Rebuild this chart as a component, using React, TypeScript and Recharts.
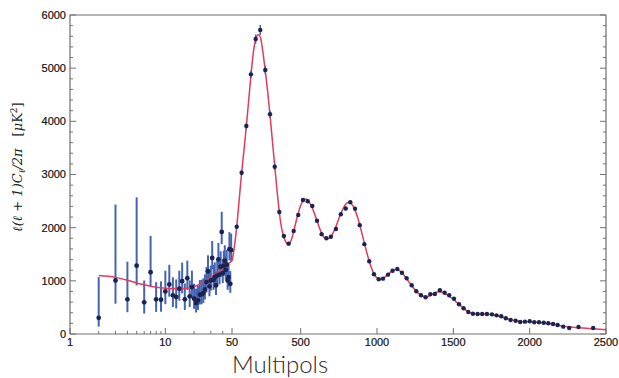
import React from "react";
import { ComposedChart, Line, Scatter, XAxis, YAxis, ErrorBar, Label } from "recharts";

// x axis is log from 1 to 50, then linear from 50 to 2500
const LOG_W = 162;
const LIN_W = 374;
const toT = (ell: number) =>
  ell <= 50 ? (Math.log10(ell) / Math.log10(50)) * LOG_W : LOG_W + ((ell - 50) / 2450) * LIN_W;

// low multipoles, with asymmetric error bars
const lowEll = [2, 3, 4, 5, 6, 7, 8, 9, 10, 11, 12, 13, 14, 15, 16, 17, 18, 19, 20, 21, 22, 23, 24, 25,
  26, 27, 28, 29, 30, 31, 32, 33, 34, 35, 36, 37, 38, 39, 40, 41, 42, 43, 44, 45, 46, 47, 48, 49];
const lowVal = [304, 1006, 652, 1286, 596, 1161, 652, 646, 801, 932, 727, 696, 851, 994, 652, 1050, 708, 882,
  665, 584, 634, 739, 745, 770, 839, 975, 1180, 894, 1006, 1429, 1019, 1068, 913, 1099, 1404, 1118, 1267,
  1919, 1143, 1286, 1379, 1205, 1304, 1006, 1068, 1596, 944, 1578];
const lowErrDown = [165, 436, 242, 373, 211, 279, 236, 226, 240, 230, 220, 215, 225, 230, 200, 220, 200, 210,
  190, 180, 180, 185, 185, 185, 190, 195, 200, 185, 190, 210, 190, 190, 180, 190, 205, 185, 195, 230, 185,
  190, 195, 185, 190, 175, 180, 210, 170, 205];
const lowErrUp = [766, 1429, 708, 1285, 410, 684, 323, 344, 390, 370, 340, 330, 340, 350, 300, 330, 300, 310,
  280, 270, 270, 275, 275, 275, 280, 285, 300, 270, 280, 320, 280, 280, 260, 280, 310, 270, 290, 380, 270,
  280, 290, 270, 280, 250, 260, 320, 240, 310];

// binned high multipoles
const highEll = [81, 113, 144, 174, 205, 235, 268, 299, 330, 360, 390, 421, 454, 484, 515, 546, 576, 607, 637,
  668, 698, 731, 763, 795, 825, 856, 887, 917, 949, 980, 1011, 1039, 1072, 1102, 1133, 1163, 1194, 1227, 1257,
  1288, 1318, 1349, 1379, 1412, 1443, 1473, 1504, 1537, 1567, 1598, 1628, 1659, 1689, 1720, 1753, 1783, 1814,
  1844, 1875, 1908, 1938, 1969, 2000, 2030, 2061, 2092, 2122, 2153, 2183, 2220, 2259, 2320, 2416];
const highVal = [2018, 3034, 3912, 4884, 5548, 5717, 4965, 4132, 3147, 2294, 1843, 1699, 1937, 2238, 2520, 2498,
  2407, 2131, 1878, 1800, 1830, 1975, 2251, 2360, 2477, 2358, 2047, 1690, 1367, 1123, 1029, 1041, 1116, 1191,
  1223, 1153, 1048, 916, 803, 728, 690, 747, 752, 822, 777, 728, 664, 559, 483, 414, 382, 376, 376, 376, 370,
  351, 333, 295, 263, 250, 226, 232, 239, 220, 220, 213, 201, 188, 169, 138, 113, 132, 113];
const highErr = [40, 50, 60, 70, 85, 95, 80, 70, 60, 50, 40, 35, 35, 35, 35, 35, 30, 30, 30, 30, 30, 30, 30,
  30, 30, 30, 30, 25, 25, 25, 25, 25, 25, 25, 25, 25, 20, 20, 20, 20, 20, 20, 20, 20, 20, 20, 20, 20, 20, 20,
  20, 20, 20, 20, 20, 20, 20, 20, 20, 20, 20, 20, 20, 20, 20, 20, 20, 20, 20, 20, 20, 20, 20];

// best-fit model curve
const theoryEll = [2, 3, 4, 5, 6, 8, 10, 13, 16, 20, 25, 30, 35, 40, 45, 50, 60, 70, 81, 100, 113, 130, 144,
  160, 174, 190, 205, 222, 235, 250, 268, 285, 299, 315, 330, 345, 360, 375, 390, 405, 420, 437, 454, 470, 484,
  500, 515, 530, 546, 560, 576, 592, 609, 625, 639, 655, 670, 685, 700, 715, 731, 747, 762, 780, 795, 812, 825,
  840, 856, 872, 888, 904, 919, 935, 949, 965, 980, 995, 1011, 1025, 1039, 1055, 1072, 1087, 1102, 1117, 1133,
  1148, 1163, 1178, 1194, 1210, 1227, 1242, 1257, 1272, 1288, 1303, 1318, 1334, 1349, 1365, 1379, 1395, 1412,
  1428, 1443, 1458, 1473, 1488, 1504, 1520, 1537, 1552, 1567, 1582, 1598, 1613, 1628, 1659, 1689, 1720, 1753,
  1783, 1814, 1844, 1875, 1908, 1938, 1969, 2000, 2030, 2061, 2092, 2122, 2153, 2183, 2220, 2259, 2320, 2416,
  2500];
const theoryVal = [1100, 1065, 1010, 960, 925, 880, 860, 850, 855, 890, 970, 1060, 1150, 1240, 1320, 1380,
  1530, 1740, 2020, 2620, 3030, 3500, 3910, 4420, 4860, 5300, 5540, 5630, 5590, 5350, 4950, 4520, 4120, 3620,
  3160, 2700, 2290, 1990, 1820, 1720, 1690, 1760, 1930, 2120, 2270, 2420, 2500, 2540, 2520, 2460, 2370, 2250,
  2110, 1980, 1880, 1810, 1790, 1800, 1840, 1920, 2020, 2150, 2260, 2370, 2440, 2480, 2470, 2420, 2330, 2200,
  2040, 1860, 1690, 1510, 1370, 1230, 1130, 1070, 1040, 1035, 1050, 1080, 1120, 1160, 1195, 1215, 1215, 1190,
  1150, 1100, 1040, 975, 910, 855, 805, 765, 730, 705, 695, 705, 725, 750, 775, 790, 795, 785, 765, 740, 710,
  680, 645, 600, 560, 520, 485, 450, 420, 395, 380, 372, 372, 370, 362, 345, 322, 295, 268, 250, 236, 232, 232,
  225, 217, 207, 195, 182, 166, 148, 132, 118, 100, 82];

const xMajor = [1, 10, 50, 500, 1000, 1500, 2000, 2500];
const xMinor = [2, 3, 4, 5, 6, 7, 8, 9, 20, 30, 40];
const yMajor = [0, 1000, 2000, 3000, 4000, 5000, 6000];
const yMinor = [200, 400, 600, 800, 1200, 1400, 1600, 1800, 2200, 2400, 2600, 2800, 3200, 3400, 3600, 3800,
  4200, 4400, 4600, 4800, 5200, 5400, 5600, 5800];

const lowData = lowEll.map((l, i) => ({ t: toT(l), v: lowVal[i], err: [lowErrDown[i], lowErrUp[i]] }));
const highData = highEll.map((l, i) => ({ t: toT(l), v: highVal[i], err: highErr[i] }));
const theoryData = theoryEll.map((l, i) => ({ t: toT(l), v: theoryVal[i] }));

const xLabels = new Map<string, string>();
xMajor.forEach((l) => xLabels.set(toT(l).toFixed(3), String(l)));
const xTicks = [...xMajor, ...xMinor].map(toT);
const yTicks = [...yMajor, ...yMinor];

const AXIS = "#707070";
const TICK_FONT = "'Liberation Sans', Arial, sans-serif";

const BottomTick = (props: any) => {
  const { x, y, payload } = props;
  const label = xLabels.get(Number(payload.value).toFixed(3));
  const len = label ? 6 : 3;
  return (
    <g>
      <line x1={x} x2={x} y1={y} y2={y - len} stroke={AXIS} strokeWidth={1} />
      {label && (
        <text x={x} y={y + 12} textAnchor="middle" fontSize={11} fontFamily={TICK_FONT} fill="#111" stroke="#111" strokeWidth={0.2}>
          {label}
        </text>
      )}
    </g>
  );
};

const TopTick = (props: any) => {
  const { x, y, payload } = props;
  const len = xLabels.has(Number(payload.value).toFixed(3)) ? 6 : 3;
  return <line x1={x} x2={x} y1={y} y2={y + len} stroke={AXIS} strokeWidth={1} />;
};

const LeftTick = (props: any) => {
  const { x, y, payload } = props;
  const major = payload.value % 1000 === 0;
  return (
    <g>
      <line x1={x} x2={x + (major ? 6 : 3)} y1={y} y2={y} stroke={AXIS} strokeWidth={1} />
      {major && (
        <text x={x - 4} y={y} dy="0.35em" textAnchor="end" fontSize={11} fontFamily={TICK_FONT} fill="#111" stroke="#111" strokeWidth={0.2}>
          {payload.value}
        </text>
      )}
    </g>
  );
};

const RightTick = (props: any) => {
  const { x, y, payload } = props;
  const major = payload.value % 1000 === 0;
  return <line x1={x} x2={x - (major ? 6 : 3)} y1={y} y2={y} stroke={AXIS} strokeWidth={1} />;
};

const dot = (r: number) => (p: any) => <circle cx={p.cx} cy={p.cy} r={r} fill="#1b2350" />;

export default function App() {
  return (
    <div style={{ position: "absolute", left: 0, top: 0, background: "#fff" }}>
      <ComposedChart width={619} height={378} margin={{ top: 0, right: 0, bottom: 0, left: 0 }}>
        <XAxis
          dataKey="t"
          type="number"
          domain={[0, LOG_W + LIN_W]}
          ticks={xTicks}
          interval={0}
          height={44}
          tickSize={0}
          tickMargin={0}
          tickLine={false}
          axisLine={{ stroke: AXIS, strokeWidth: 1.2 }}
          tick={<BottomTick />}
          allowDataOverflow
        >
          <Label
            content={() => (
              <text x={280} y={373} textAnchor="middle" fontSize={24} fontWeight={300} fontFamily="Lato, 'Open Sans', sans-serif" fill="#2a2a2a">
                Multipols
              </text>
            )}
          />
        </XAxis>
        <XAxis
          xAxisId="top"
          orientation="top"
          type="number"
          domain={[0, LOG_W + LIN_W]}
          ticks={xTicks}
          interval={0}
          height={15}
          tickSize={0}
          tickMargin={0}
          tickLine={false}
          axisLine={{ stroke: AXIS, strokeWidth: 1.2 }}
          tick={<TopTick />}
          allowDataOverflow
        />
        <YAxis
          type="number"
          domain={[0, 6000]}
          ticks={yTicks}
          interval={0}
          width={70}
          tickSize={0}
          tickMargin={0}
          tickLine={false}
          axisLine={{ stroke: AXIS, strokeWidth: 1.2 }}
          tick={<LeftTick />}
          allowDataOverflow
        >
          <Label
            content={() => (
              <text
                x={22}
                y={167}
                transform="rotate(-90, 22, 167)"
                textAnchor="middle"
                fontSize={13}
                fontFamily="'DejaVu Serif', 'Liberation Serif', serif"
                fontStyle="italic"
                fill="#222"
              >
                ℓ(ℓ + 1)C
                <tspan fontSize={9} dy={3}>ℓ</tspan>
                <tspan dy={-3}>/2π</tspan>
                <tspan dx={12} fontStyle="normal">[</tspan>
                <tspan>μ</tspan>
                <tspan fontStyle="normal">K</tspan>
                <tspan fontSize={9} dy={-5} fontStyle="normal">2</tspan>
                <tspan dy={5} fontStyle="normal">]</tspan>
              </text>
            )}
          />
        </YAxis>
        <YAxis
          yAxisId="right"
          orientation="right"
          type="number"
          domain={[0, 6000]}
          ticks={yTicks}
          interval={0}
          width={13}
          tickSize={0}
          tickMargin={0}
          tickLine={false}
          axisLine={{ stroke: AXIS, strokeWidth: 1.2 }}
          tick={<RightTick />}
          allowDataOverflow
        />
        <Scatter data={lowData} dataKey="v" shape={dot(2.4)} isAnimationActive={false}>
          <ErrorBar dataKey="err" direction="y" width={0} stroke="#4565b2" strokeWidth={2} isAnimationActive={false} />
        </Scatter>
        <Line
          data={theoryData}
          dataKey="v"
          type="monotone"
          dot={false}
          stroke="#e23b5b"
          strokeWidth={1.5}
          isAnimationActive={false}
        />
        <Scatter data={highData} dataKey="v" shape={dot(2.2)} isAnimationActive={false}>
          <ErrorBar dataKey="err" direction="y" width={0} stroke="#4565b2" strokeWidth={1.5} isAnimationActive={false} />
        </Scatter>
      </ComposedChart>
    </div>
  );
}
